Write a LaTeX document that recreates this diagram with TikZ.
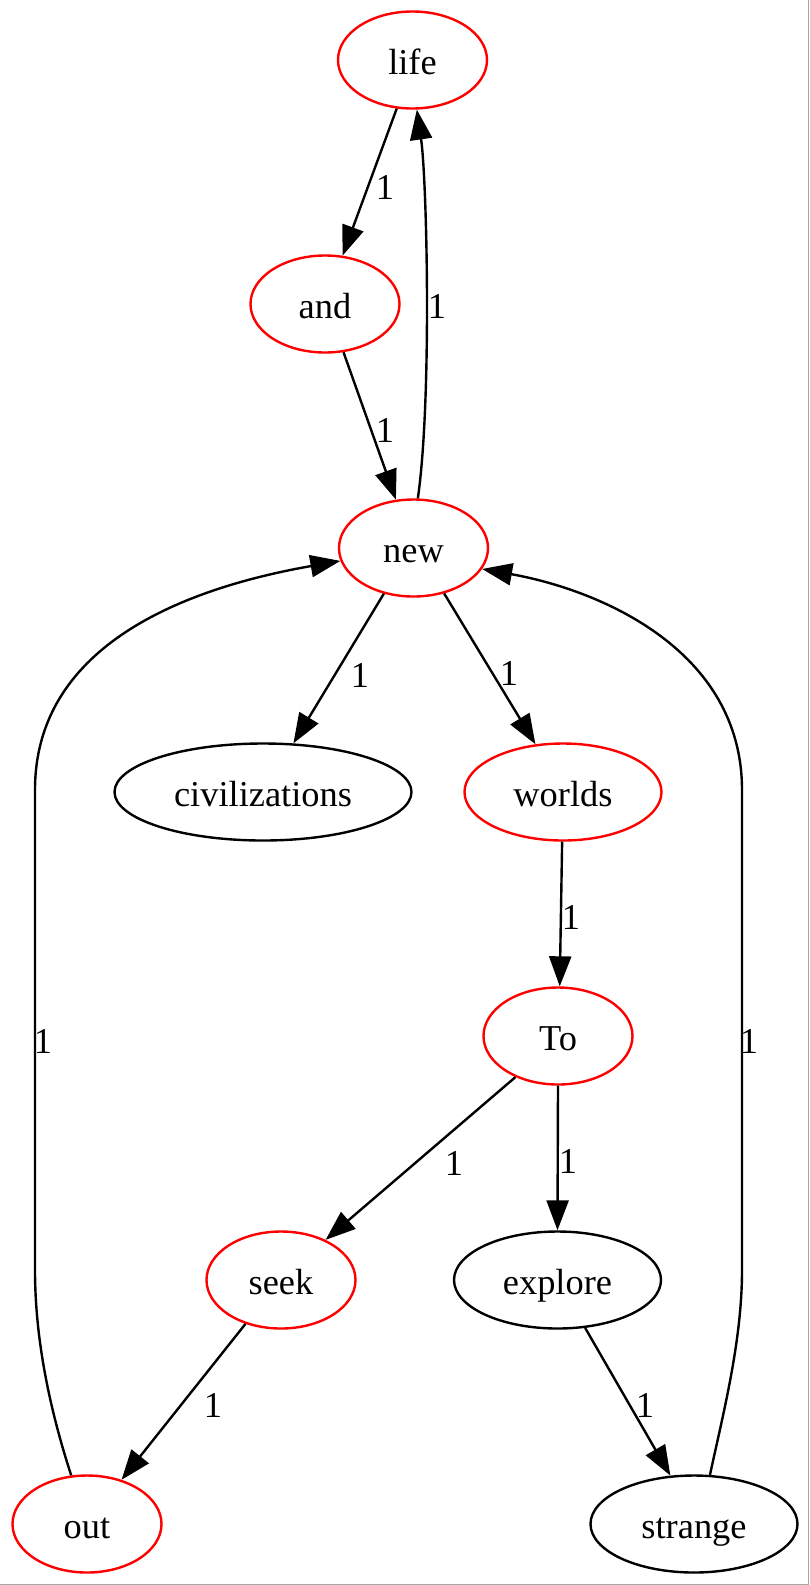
\documentclass[tikz,border=0pt]{standalone}
\usepackage{fontspec}
\setmainfont{Liberation Serif}
\usetikzlibrary{shapes.geometric,arrows.meta}
\tikzset{
  ell/.style={ellipse, draw, line width=2.4pt, inner sep=0pt, minimum height=97pt, minimum width=149pt, text height=29pt, text depth=0pt, font=\fontsize{36.4}{40}\selectfont},
  redell/.style={ell, draw=red},
  lbl/.style={inner sep=0pt, font=\fontsize{36.4}{40}\selectfont},
  edge/.style={line width=2.4pt, -{Triangle[length=30pt,width=22pt]}},
}
\begin{document}
\begin{tikzpicture}[x=1pt,y=-1pt]
\useasboundingbox (0,0) rectangle (809,1585);
\draw[gray!70, line width=1pt] (808.5,0) -- (808.5,1584.5) -- (0,1584.5);
% nodes
\node[redell] (life) at (412.5,60) {life};
\node[redell] (and) at (325,304) {and};
\node[redell] (new) at (413.5,548) {new};
\node[ell, minimum width=297pt] (civ) at (263,792) {civilizations};
\node[redell, minimum width=197pt] (worlds) at (563,792) {worlds};
\node[redell] (To) at (558,1036) {To};
\node[redell] (seek) at (281,1280) {seek};
\node[ell, minimum width=207pt] (explore) at (557.5,1280) {explore};
\node[redell] (out) at (87,1524) {out};
\node[ell, minimum width=207pt] (strange) at (694,1524) {strange};
% edges
\draw[edge] (life.252) -- (and.70.7);
\draw[edge] (and.291.6) -- (new.110);
\draw[edge] (new.85.6) .. controls (432,400) and (427,180) .. (life.275);
\draw[edge] (new.237.5) -- (civ.58.4);
\draw[edge] (new.304.3) -- (worlds.120.8);
\draw[edge] (worlds.269) -- (To.88.6);
\draw[edge] (To.224.2) -- (seek.42.1);
\draw[edge] (To.270) -- (explore.90);
\draw[edge] (seek.231.9) -- (out.52.8);
\draw[edge] (explore.300.2) -- (strange.116);
\draw[edge] (out.108.4) .. controls (50,1410) and (35,1340) .. (35,1270) -- (35,790) .. controls (35,650) and (175,590) .. (new.190);
\draw[edge] (strange.72.6) .. controls (724,1410) and (742,1340) .. (742,1270) -- (742,790) .. controls (742,650) and (600,590) .. (new.343.4);
% edge labels
\node[lbl] (l1) at (385,187) {1};
\node[lbl] (l2) at (385,430) {1};
\node[lbl] (l3) at (437,306) {1};
\node[lbl] (l4) at (360,675) {1};
\node[lbl] (l5) at (509,673) {1};
\node[lbl] (l6) at (571,917) {1};
\node[lbl] (l7) at (454,1163) {1};
\node[lbl] (l8) at (568,1161) {1};
\node[lbl] (l9) at (213,1405) {1};
\node[lbl] (l10) at (645,1405) {1};
\node[lbl] (l11) at (43,1041) {1};
\node[lbl] (l12) at (749,1041) {1};
\end{tikzpicture}
\end{document}
